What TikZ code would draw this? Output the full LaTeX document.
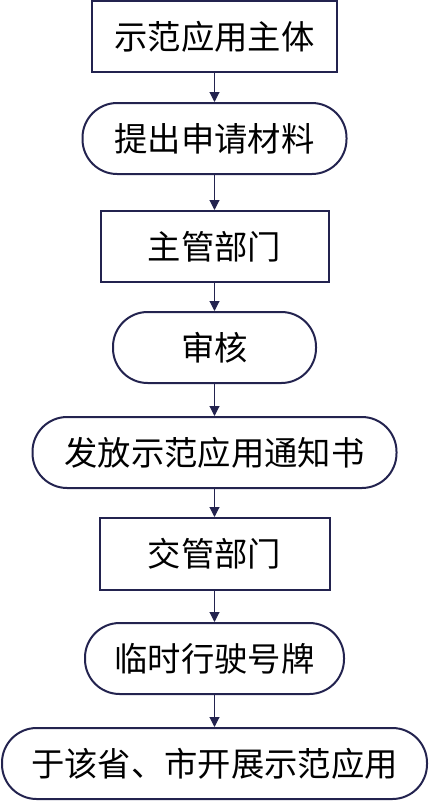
\documentclass[tikz,border=0pt]{standalone}
\usepackage{fontspec}
\setmainfont{Noto Sans CJK SC}
\usetikzlibrary{arrows.meta}
\definecolor{navy}{HTML}{23234F}
\begin{document}
\begin{tikzpicture}[x=0.75pt,y=-0.75pt,
  box/.style={draw=navy, line width=1.5pt, inner sep=0pt, text=black,
    font=\fontsize{25}{29}\selectfont, minimum height=53.25pt},
  rectbox/.style={box},
  pill/.style={box, rounded corners=26pt},
  conn/.style={draw=navy, line width=0.8pt, -{Triangle[length=7.5pt,width=7.5pt]}}]
\useasboundingbox (0,0) rectangle (429,804);
\node[rectbox, minimum width=183.75pt] (n1) at (214.5,36.5) {示范应用主体};
\node[pill, minimum width=198pt] (n2) at (214.5,138.5) {提出申请材料};
\node[rectbox, minimum width=171pt] (n3) at (214.5,246.5) {主管部门};
\node[pill, minimum width=152.25pt] (n4) at (214.5,347.5) {审核};
\node[pill, minimum width=273pt] (n5) at (214.5,452.5) {发放示范应用通知书};
\node[rectbox, minimum width=172.5pt, minimum height=54pt] (n6) at (214.5,554) {交管部门};
\node[pill, minimum width=194.25pt] (n7) at (214.5,658.5) {临时行驶号牌};
\node[pill, minimum width=318.75pt] (n8) at (214.5,763.5) {于该省、市开展示范应用};
\draw[conn] (n1.south) -- (n2.north);
\draw[conn] (n2.south) -- (n3.north);
\draw[conn] (n3.south) -- (n4.north);
\draw[conn] (n4.south) -- (n5.north);
\draw[conn] (n5.south) -- (n6.north);
\draw[conn] (n6.south) -- (n7.north);
\draw[conn] (n7.south) -- (n8.north);
\end{tikzpicture}
\end{document}
